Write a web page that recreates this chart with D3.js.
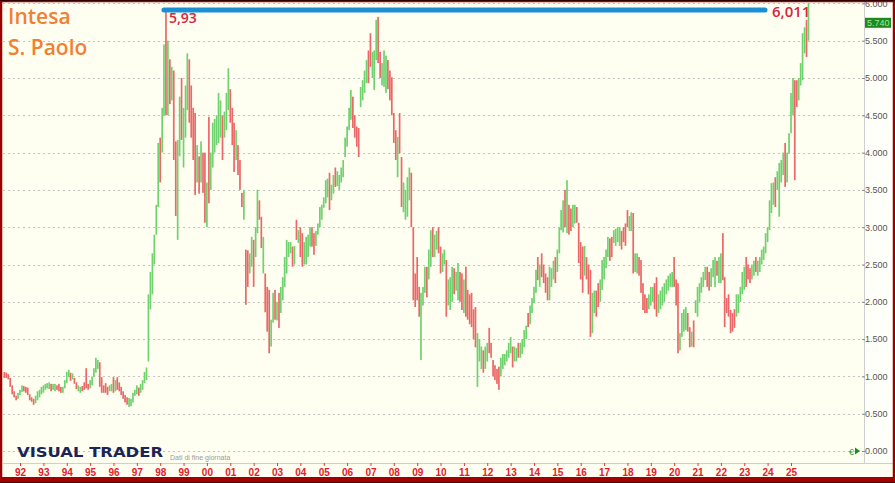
<!DOCTYPE html>
<html><head><meta charset="utf-8">
<script src="https://cdn.jsdelivr.net/npm/d3@7"></script>
<style>html,body{margin:0;padding:0;background:#fff}svg{display:block}</style>
</head><body>
<svg id="chart" width="895" height="483"></svg>
<script>
// ---- DATA (monthly bars, first bar = May 1991) ----
const firstYear = 1991, firstMonth = 4;
const lows = [
0.98,0.98,0.96,0.86,0.76,0.72,0.68,0.70,0.75,0.79,
0.80,0.78,0.75,0.68,0.66,0.62,0.64,0.68,0.72,0.76,
0.78,0.82,0.84,0.83,0.80,0.82,0.80,0.82,0.80,0.78,
0.78,0.84,0.91,0.99,0.94,0.96,0.90,0.83,0.80,0.78,
0.80,0.82,0.84,0.82,0.84,0.88,0.99,1.05,1.10,0.86,
0.78,0.78,0.78,0.75,0.80,0.80,0.78,0.80,0.82,0.80,
0.75,0.70,0.65,0.62,0.59,0.60,0.65,0.74,0.76,0.74,
0.78,0.82,0.91,0.95,1.20,1.90,2.10,2.50,2.90,3.27,
3.60,4.00,4.50,4.50,4.50,4.65,4.70,3.90,3.15,2.83,
3.95,4.17,3.80,4.20,4.57,4.40,4.20,3.90,3.43,3.60,
3.45,3.60,3.46,3.06,3.00,3.32,3.50,3.80,4.00,4.10,
4.13,4.20,3.90,4.20,4.30,4.57,4.40,4.10,3.74,3.90,
3.70,3.50,3.27,3.10,1.96,2.20,2.38,2.47,2.20,2.60,
2.92,3.10,2.72,2.38,1.86,1.60,1.31,1.40,1.72,1.76,
1.75,1.65,1.85,2.02,2.20,2.38,2.60,2.65,2.47,2.50,
2.83,2.79,2.60,2.47,2.50,2.50,2.60,2.74,2.74,2.63,
2.75,2.90,3.00,3.10,3.26,3.32,3.40,3.23,3.36,3.45,
3.54,3.55,3.50,3.60,3.67,3.94,4.08,4.30,4.44,4.33,
4.20,4.08,3.94,4.61,4.70,4.80,4.93,4.93,5.15,5.00,
4.84,5.24,5.20,5.00,4.90,4.88,4.80,4.85,4.70,4.50,
4.13,3.90,3.67,3.99,3.27,3.20,3.10,3.14,3.36,3.00,
2.02,1.93,2.02,1.80,1.22,1.95,2.12,2.06,2.30,2.47,
2.60,2.60,2.70,2.65,2.38,2.40,2.50,1.80,1.95,1.89,
2.00,2.10,2.15,2.02,2.00,1.89,1.85,1.80,1.76,1.70,
1.66,1.50,1.39,0.86,1.20,1.10,1.05,1.10,1.20,1.31,
1.25,1.00,0.95,0.90,0.82,1.00,1.10,1.15,1.20,1.25,
1.31,1.12,1.20,1.20,1.25,1.25,1.30,1.39,1.50,1.66,
1.70,1.85,1.98,2.12,2.29,2.20,2.33,2.25,2.12,2.02,
2.02,2.20,2.30,2.25,2.40,2.65,2.96,2.93,3.00,2.92,
2.90,2.95,3.00,3.05,3.06,2.52,2.30,2.12,2.35,2.30,
2.10,1.53,1.58,1.85,1.80,1.93,2.00,2.16,2.30,2.45,
2.60,2.55,2.60,2.79,2.75,2.80,2.75,2.70,2.80,2.75,
3.00,2.95,2.95,2.38,2.40,2.38,2.35,2.12,1.89,1.85,
1.85,1.90,1.95,2.00,1.90,1.80,1.85,1.90,1.95,2.00,
2.10,2.15,2.20,2.20,2.20,1.95,1.31,1.35,1.53,1.60,
1.62,1.60,1.39,1.40,1.39,1.85,1.80,2.00,2.12,2.20,
2.29,2.20,2.15,2.20,2.33,2.20,2.35,2.25,2.25,2.29,
1.66,1.85,1.80,1.58,1.60,1.65,1.80,1.85,2.00,2.10,
2.16,2.20,2.30,2.25,2.30,2.35,2.40,2.35,2.40,2.50,
2.56,2.65,2.80,2.96,3.19,3.30,3.27,3.50,3.14,3.60,
3.70,3.54,3.60,3.99,4.26,4.50,3.63,4.61,4.70,4.90,
4.97,5.33,5.28,5.50];
const highs = [
1.06,1.05,1.03,0.98,0.88,0.80,0.74,0.78,0.82,0.88,
0.87,0.86,0.85,0.76,0.72,0.70,0.74,0.80,0.82,0.86,
0.88,0.90,0.91,0.92,0.90,0.90,0.90,0.88,0.90,0.86,
0.86,0.95,1.06,1.09,1.05,1.04,0.98,0.92,0.88,0.86,
0.87,0.92,1.11,0.90,0.95,1.00,1.11,1.25,1.22,1.19,
0.99,0.88,0.91,0.86,0.88,0.90,0.99,0.95,0.99,0.92,
0.86,0.80,0.75,0.72,0.71,0.70,0.78,0.82,0.88,0.85,
0.90,0.95,1.06,1.12,2.10,2.40,2.65,2.90,3.30,4.13,
4.20,4.60,5.45,5.93,5.50,5.25,5.15,5.10,4.15,4.17,
4.75,5.00,4.60,4.90,5.33,5.25,4.90,4.60,4.53,4.10,
3.95,4.15,4.00,4.00,3.60,4.48,4.00,4.40,4.45,4.50,
4.80,4.70,4.50,4.55,4.80,5.13,4.85,4.60,4.40,4.30,
4.10,3.90,3.46,3.50,2.70,2.69,2.65,2.87,2.83,3.00,
3.50,3.36,3.14,2.87,2.38,2.20,2.16,1.76,2.12,2.16,
2.00,2.12,2.20,2.33,2.60,2.83,2.80,2.80,2.74,2.75,
3.10,2.96,3.00,2.92,2.80,2.87,2.90,3.00,3.00,2.92,
2.95,3.05,3.27,3.30,3.40,3.63,3.65,3.73,3.57,3.70,
3.80,3.75,3.70,3.80,3.90,4.20,4.35,4.60,4.84,4.75,
4.50,4.35,4.33,4.88,4.97,5.10,5.24,5.37,5.60,5.35,
5.37,5.78,5.82,5.35,5.20,5.37,5.30,5.24,5.10,5.01,
4.53,4.30,4.21,4.53,3.94,3.60,3.50,3.67,3.80,3.73,
3.00,2.38,2.60,2.20,2.12,2.20,2.47,2.47,2.70,2.96,
3.00,2.90,2.95,3.00,2.74,2.65,2.70,2.56,2.30,2.33,
2.47,2.45,2.40,2.52,2.40,2.38,2.30,2.47,2.16,2.10,
2.12,1.90,1.93,1.58,1.50,1.40,1.35,1.40,1.45,1.65,
1.45,1.22,1.15,1.10,1.13,1.25,1.30,1.30,1.35,1.45,
1.53,1.40,1.40,1.38,1.45,1.45,1.50,1.62,1.68,1.85,
1.95,2.05,2.20,2.43,2.60,2.50,2.65,2.50,2.38,2.33,
2.47,2.45,2.55,2.60,2.70,3.00,3.23,3.36,3.50,3.63,
3.30,3.25,3.30,3.30,3.27,3.06,2.80,2.74,2.75,2.60,
2.50,2.43,2.12,2.15,2.15,2.25,2.30,2.56,2.60,2.70,
2.87,2.85,2.87,2.96,2.98,3.00,3.00,2.95,3.00,3.05,
3.23,3.15,3.20,3.19,2.65,2.65,2.60,2.56,2.25,2.10,
2.05,2.10,2.20,2.20,2.25,2.33,2.10,2.15,2.20,2.25,
2.30,2.35,2.38,2.40,2.60,2.30,2.25,1.58,1.85,1.90,
1.93,1.85,1.66,1.60,1.75,2.02,2.20,2.25,2.33,2.40,
2.47,2.47,2.40,2.45,2.56,2.60,2.55,2.60,2.65,2.92,
2.33,2.05,2.10,1.89,1.85,1.90,2.10,2.10,2.20,2.40,
2.47,2.60,2.50,2.45,2.50,2.55,2.60,2.55,2.60,2.70,
2.74,2.92,3.00,3.36,3.59,3.60,3.67,3.75,3.86,3.90,
4.00,4.13,4.00,4.26,4.80,5.00,4.97,4.97,5.00,5.20,
5.60,5.68,5.78,6.011];
const dirs = (
"ddddddduuu"+"dddddduuuu"+"uuuuduuddd"+"uuuududduu"+"dddduuuuud"+
"dddduududd"+"dddduuuuud"+"uuuuuuuuuu"+"duudududdu"+"uduuuddddu"+
"dudduduuuu"+"uuduuudddu"+"dddudduudu"+"udduddduud"+"uduuuuuudu"+
"dudduuuudd"+"uuuuuuuduu"+"duuuuuuuud"+"ddduuuuddu"+"uudduuuddd"+
"ddudduuuud"+"dddduuuduu"+"duudduuduu"+"uduudduddd"+"ddduuuduud"+
"ddddduuuuu"+"uduuduuuud"+"uuuududddd"+"uuuduuuudu"+"dduuddddud"+
"dduudduuuu"+"udduuuuddd"+"duuduudddd"+"duuudduuuu"+"uuuuddduuu"+
"udduduuuuu"+"udduuuduud"+"dddddduuuu"+"uddduuduuu"+"uuuuuuduuu"+
"uduuuudduu"+"uudu").split("");

const yTicks = [0,0.5,1,1.5,2,2.5,3,3.5,4,4.5,5,5.5,6];
const yearTicks = d3.range(1992, 2026);
const titleLines = ["Intesa", "S. Paolo"];
const peakValue = 5.93, peakLabel = "5,93";
const maxValue = 6.011, maxLabel = "6,011";
const lastPrice = 5.74;

// ---- LAYOUT ----
const W = 895, H = 483;
const P = {l: 3, r: 864, t: 3, b: 463};
const svg = d3.select("#chart");

const x = d3.scaleTime()
  .domain([new Date(1992,0,1), new Date(2025,0,1)])
  .range([20, 791]);
const y = d3.scaleLinear().domain([0, 6]).range([451, 3.4]);

const bars = lows.map((lo,i)=>({date:new Date(firstYear, firstMonth+i, 1), lo, hi:highs[i], up:dirs[i]==="u"}));

// backgrounds
svg.append("rect").attr("width",W).attr("height",H).attr("fill","#fffff1");
svg.append("rect").attr("x",P.r).attr("y",0).attr("width",W-P.r).attr("height",P.b).attr("fill","#fffffa");

// grid
svg.append("g").selectAll("line").data(yTicks).join("line")
  .attr("x1",P.l).attr("x2",P.r).attr("y1",d=>Math.round(y(d))+0.5).attr("y2",d=>Math.round(y(d))+0.5)
  .attr("stroke","#c4c4c4").attr("stroke-width",1).attr("stroke-dasharray","2,3");

// panel separators
svg.append("line").attr("x1",P.r+0.5).attr("x2",P.r+0.5).attr("y1",0).attr("y2",P.b)
  .attr("stroke","#cfcfcf");
svg.append("line").attr("x1",P.l).attr("x2",W).attr("y1",P.b+0.5).attr("y2",P.b+0.5)
  .attr("stroke","#cfcfcf");

// clip
svg.append("clipPath").attr("id","clip").append("rect")
  .attr("x",P.l).attr("y",P.t).attr("width",P.r-P.l).attr("height",P.b-P.t);

// bars
svg.append("g").attr("clip-path","url(#clip)").selectAll("rect").data(bars).join("rect")
  .attr("x",d=>x(d.date)-0.85).attr("width",1.7)
  .attr("y",d=>y(d.hi)).attr("height",d=>Math.max(1,y(d.lo)-y(d.hi)))
  .attr("fill",d=>d.up?"#6fd26f":"#ec6767");

// max line
const peakBar = bars.find(d=>d.hi===peakValue);
svg.append("line")
  .attr("x1",x(peakBar.date)-2).attr("x2",765).attr("y1",10).attr("y2",10)
  .attr("stroke","#1a8fd6").attr("stroke-width",5).attr("stroke-linecap","round");
svg.append("text").attr("x",x(peakBar.date)+3).attr("y",23)
  .attr("font-family","Open Sans, sans-serif").attr("font-size",14).attr("font-weight",600).attr("fill","#d9233c")
  .text(peakLabel);
svg.append("text").attr("x",772).attr("y",17)
  .attr("font-family","Open Sans, sans-serif").attr("font-size",15).attr("font-weight",600).attr("fill","#d9233c")
  .text(maxLabel);

// right axis
const yAxis = d3.axisRight(y).tickValues(yTicks).tickSize(3).tickPadding(0)
  .tickFormat(d3.format(".3f"));
const ga = svg.append("g").attr("transform",`translate(${P.r-2},0)`).call(yAxis);
ga.select(".domain").remove();
ga.selectAll("line").attr("stroke","#888");
ga.selectAll("text").attr("font-family","Liberation Sans, Arial, sans-serif")
  .attr("font-size",9).attr("fill","#555");

// last price box
svg.append("rect").attr("x",P.r+1).attr("y",y(lastPrice)-5).attr("width",26).attr("height",10)
  .attr("fill","#1d8a1d");
svg.append("text").attr("x",P.r+3).attr("y",y(lastPrice)+3.5)
  .attr("font-family","Liberation Sans, Arial, sans-serif").attr("font-size",9).attr("fill","#9fe89f")
  .text(d3.format(".3f")(lastPrice));

// euro marker at 0
svg.append("text").attr("x",849).attr("y",y(0)+3.5)
  .attr("font-family","Liberation Sans, Arial, sans-serif").attr("font-size",9).attr("fill","#2a9a2a")
  .text("€");
svg.append("path").attr("d",`M${855},${y(0)-3.5}L${860},${y(0)}L${855},${y(0)+3.5}Z`).attr("fill","#1e8c1e");

// bottom axis
const xAxis = d3.axisBottom(x).tickValues(yearTicks.map(yr=>new Date(yr,0,1)))
  .tickSize(3).tickPadding(3).tickFormat(d3.timeFormat("%y"));
const gx = svg.append("g").attr("transform",`translate(0,${P.b})`).call(xAxis);
gx.select(".domain").remove();
gx.selectAll("line").attr("stroke","#e33");
gx.selectAll("text").attr("font-family","Liberation Sans, Arial, sans-serif")
  .attr("font-size",10).attr("font-weight","bold").attr("fill","#e3202c");

// title
svg.append("g").selectAll("text").data(titleLines).join("text")
  .attr("x",8).attr("y",(d,i)=>24+i*31)
  .attr("font-family","Open Sans, sans-serif").attr("font-size",21).attr("font-weight",600).attr("fill","#f28032")
  .text(d=>d);

// logo
svg.append("text").attr("x",17).attr("y",457)
  .attr("font-family","DejaVu Sans, sans-serif").attr("font-size",14).attr("font-weight","bold")
  .attr("fill","#1b2456").attr("textLength",146).attr("lengthAdjust","spacingAndGlyphs")
  .text("VISUAL TRADER");
svg.append("text").attr("x",170).attr("y",460)
  .attr("font-family","Liberation Sans, Arial, sans-serif").attr("font-size",7).attr("fill","#9a9a9a")
  .text("Dati di fine giornata");

// frame
svg.append("rect").attr("x",1).attr("y",1).attr("width",W-2).attr("height",H-2)
  .attr("fill","none").attr("stroke","#9c0000").attr("stroke-width",2.5);
svg.append("rect").attr("x",0).attr("y",477).attr("width",W).attr("height",6).attr("fill","#a30000");
svg.append("line").attr("x1",0).attr("x2",W).attr("y1",482.5).attr("y2",482.5).attr("stroke","#400");
svg.append("line").attr("x1",0).attr("x2",W).attr("y1",0.5).attr("y2",0.5).attr("stroke","#300");
</script>
</body></html>
